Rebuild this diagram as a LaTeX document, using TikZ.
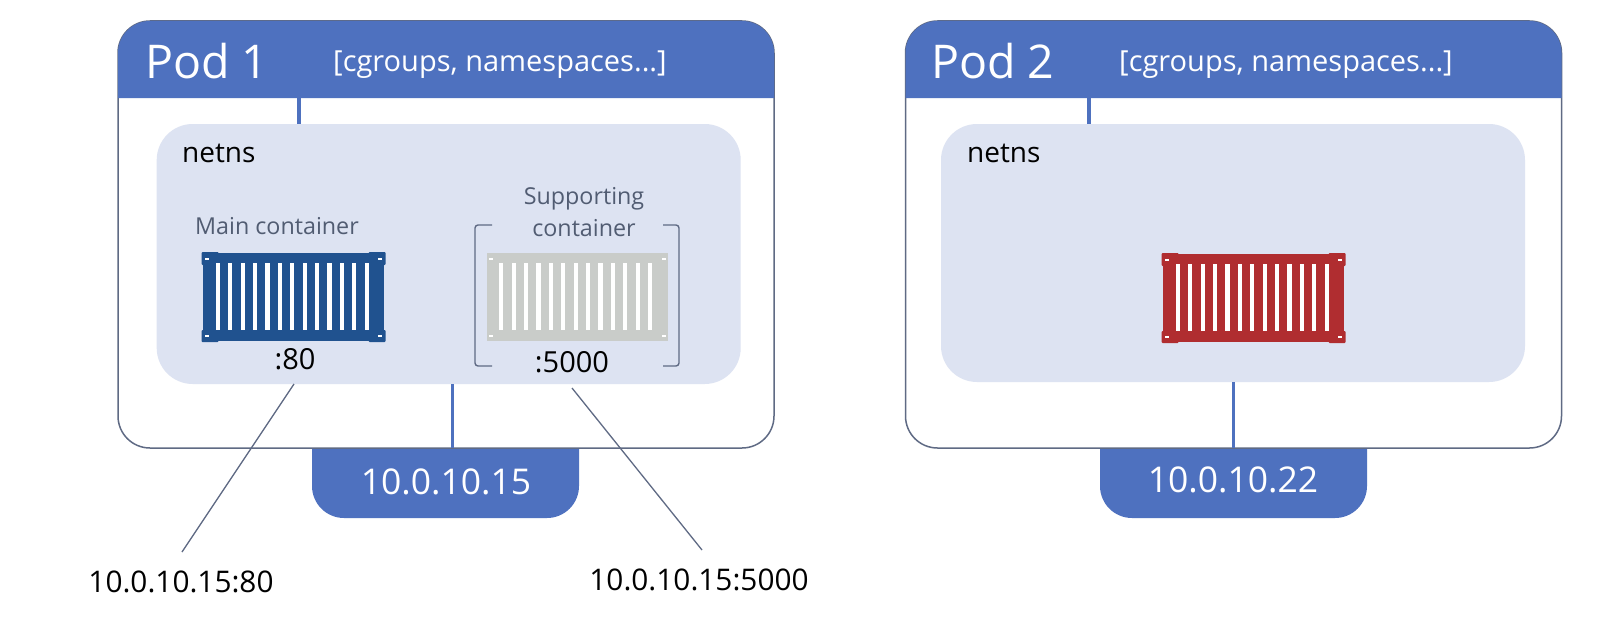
\documentclass[tikz,border=0pt]{standalone}
\usepackage{fontspec}
\setmainfont{Open Sans}
\definecolor{podblue}{HTML}{4E71BF}
\definecolor{podline}{HTML}{5F6A84}
\definecolor{nsfill}{HTML}{DDE3F2}
\definecolor{labelgrey}{HTML}{515C72}
\definecolor{contblue}{HTML}{20528F}
\definecolor{contgrey}{HTML}{C9CCC9}
\definecolor{contred}{HTML}{B02D30}
\newcommand{\fs}[1]{\fontsize{#1}{#1}\selectfont}
\tikzset{
  box/.style={inner sep=0pt,outer sep=0pt,rectangle},
  podbox/.style={box,draw=podline,line width=1.5pt,fill=white,rounded corners=32pt,minimum width=656pt,minimum height=427pt},
  nsbox/.style={box,fill=nsfill,rounded corners=36pt,minimum width=584pt},
  stem/.style={draw=podblue,line width=3.4pt},
  leader/.style={draw=podline,line width=1.3pt},
  bracket/.style={draw=podline,line width=1.4pt,rounded corners=3pt},
  podtitle/.style={inner sep=0pt,anchor=west,text=white,font=\fs{46.5}},
  podsub/.style={inner sep=0pt,text=white,font=\fs{29}},
  nstext/.style={inner sep=0pt,anchor=west,text=black,font=\fs{28}},
  iptext/.style={inner sep=0pt,text=white,font=\fs{35.5}},
  conttext/.style={inner sep=0pt,text=labelgrey,font=\fs{23.3}},
  port/.style={inner sep=0pt,text=black,font=\fs{29}},
  addr/.style={inner sep=0pt,text=black,font=\fs{29.8}},
  pics/shipbox/.style args={#1/#2}{code={
    \fill[#1] (1.5,0) rectangle (182.5,88);
    \ifnum#2=1
      \fill[#1,rounded corners=1pt] (0,-1) rectangle (17,12);
      \fill[#1,rounded corners=1pt] (167,-1) rectangle (184,12);
      \fill[#1,rounded corners=1pt] (0,77) rectangle (17,89);
      \fill[#1,rounded corners=1pt] (167,77) rectangle (184,89);
    \fi
    \foreach \k in {0,...,12}{\fill[white] ({14.2+12.4*\k},10) rectangle ({18.4+12.4*\k},77);}
    \foreach \hx/\hy in {3.5/4.5,176.5/4.5,3.5/81.5,176.5/81.5}{\fill[white] (\hx,\hy) rectangle ++(4,2);}
  }}
}
\begin{document}
\begin{tikzpicture}[x=1pt,y=-1pt]
\useasboundingbox (0,0) rectangle (1604,634);
\fill[white] (0,0) rectangle (1604,634);
% IP tabs
\fill[podblue] (312,447) [rounded corners=32pt] -- (312,518) -- (579,518) [sharp corners] -- (579,447) -- cycle;
\fill[podblue] (1100,447) [rounded corners=32pt] -- (1100,518) -- (1367,518) [sharp corners] -- (1367,447) -- cycle;
% pods
\node[podbox] (podA) at (446,234.5) {};
\node[podbox] (podB) at (1233.5,234.5) {};
% headers
\fill[podblue] (118,98) [rounded corners=32pt] -- (118,21) -- (774,21) [sharp corners] -- (774,98) -- cycle;
\fill[podblue] (905.5,98) [rounded corners=32pt] -- (905.5,21) -- (1561.5,21) [sharp corners] -- (1561.5,98) -- cycle;
\node[box,minimum width=656pt,minimum height=77pt] (hdrA) at (446,59.5) {};
\node[box,minimum width=656pt,minimum height=77pt] (hdrB) at (1233.5,59.5) {};
% netns
\node[nsbox,minimum height=260pt] (nsA) at (448.7,254) {};
\node[nsbox,minimum height=258pt] (nsB) at (1233,253) {};
% IP tab anchors
\node[box,minimum width=267pt,minimum height=71pt] (tabA) at (445.5,483) {};
\node[box,minimum width=267pt,minimum height=71pt] (tabB) at (1233.5,483) {};
% stems
\draw[stem] (299,0 |- hdrA.south) -- (299,0 |- nsA.north);
\draw[stem] (1089,0 |- hdrB.south) -- (1089,0 |- nsB.north);
\draw[stem] (452.7,0 |- nsA.south) -- (452.7,0 |- tabA.north);
\draw[stem] (1233.5,0 |- nsB.south) -- (1233.5,0 |- tabB.north);
% text
\node[podtitle] (tA) at (145,61) {Pod 1};
\node[podtitle] (tB) at (931,61) {Pod 2};
\node[podsub] (sA) at (500,65) {[cgroups, namespaces...]};
\node[podsub] (sB) at (1286,65) {[cgroups, namespaces...]};
\node[nstext] (nA) at (182,153) {netns};
\node[nstext] (nB) at (967,153) {netns};
\node[iptext] (ipA) at (446,482) {10.0.10.15};
\node[iptext] (ipB) at (1233,480) {10.0.10.22};
% containers
\pic at (201.5,253) {shipbox={contblue/1}};
\pic at (485,253) {shipbox={contgrey/0}};
\pic at (1161.5,254) {shipbox={contred/1}};
\node[conttext] (mc) at (277,226) {Main container};
\node[conttext,align=center] (sc) at (584,212) {Supporting\\[9pt]container};
\node[port] (pA) at (295,359) {:80};
\node[port] (pB) at (572,362) {:5000};
% brackets
\draw[bracket] (492,225) -- (475,225) -- (475,366) -- (492,366);
\draw[bracket] (663,225) -- (679,225) -- (679,366) -- (663,366);
% addresses and leaders
\node[addr] (aA) at (181,582) {10.0.10.15:80};
\node[addr] (aB) at (699,580) {10.0.10.15:5000};
\coordinate (lA) at (294,384);
\coordinate (lB) at (572,388);
\coordinate (eA) at (182,552);
\coordinate (eB) at (702,550);
\draw[leader] (lA) -- (eA);
\draw[leader] (lB) -- (eB);
\end{tikzpicture}
\end{document}
